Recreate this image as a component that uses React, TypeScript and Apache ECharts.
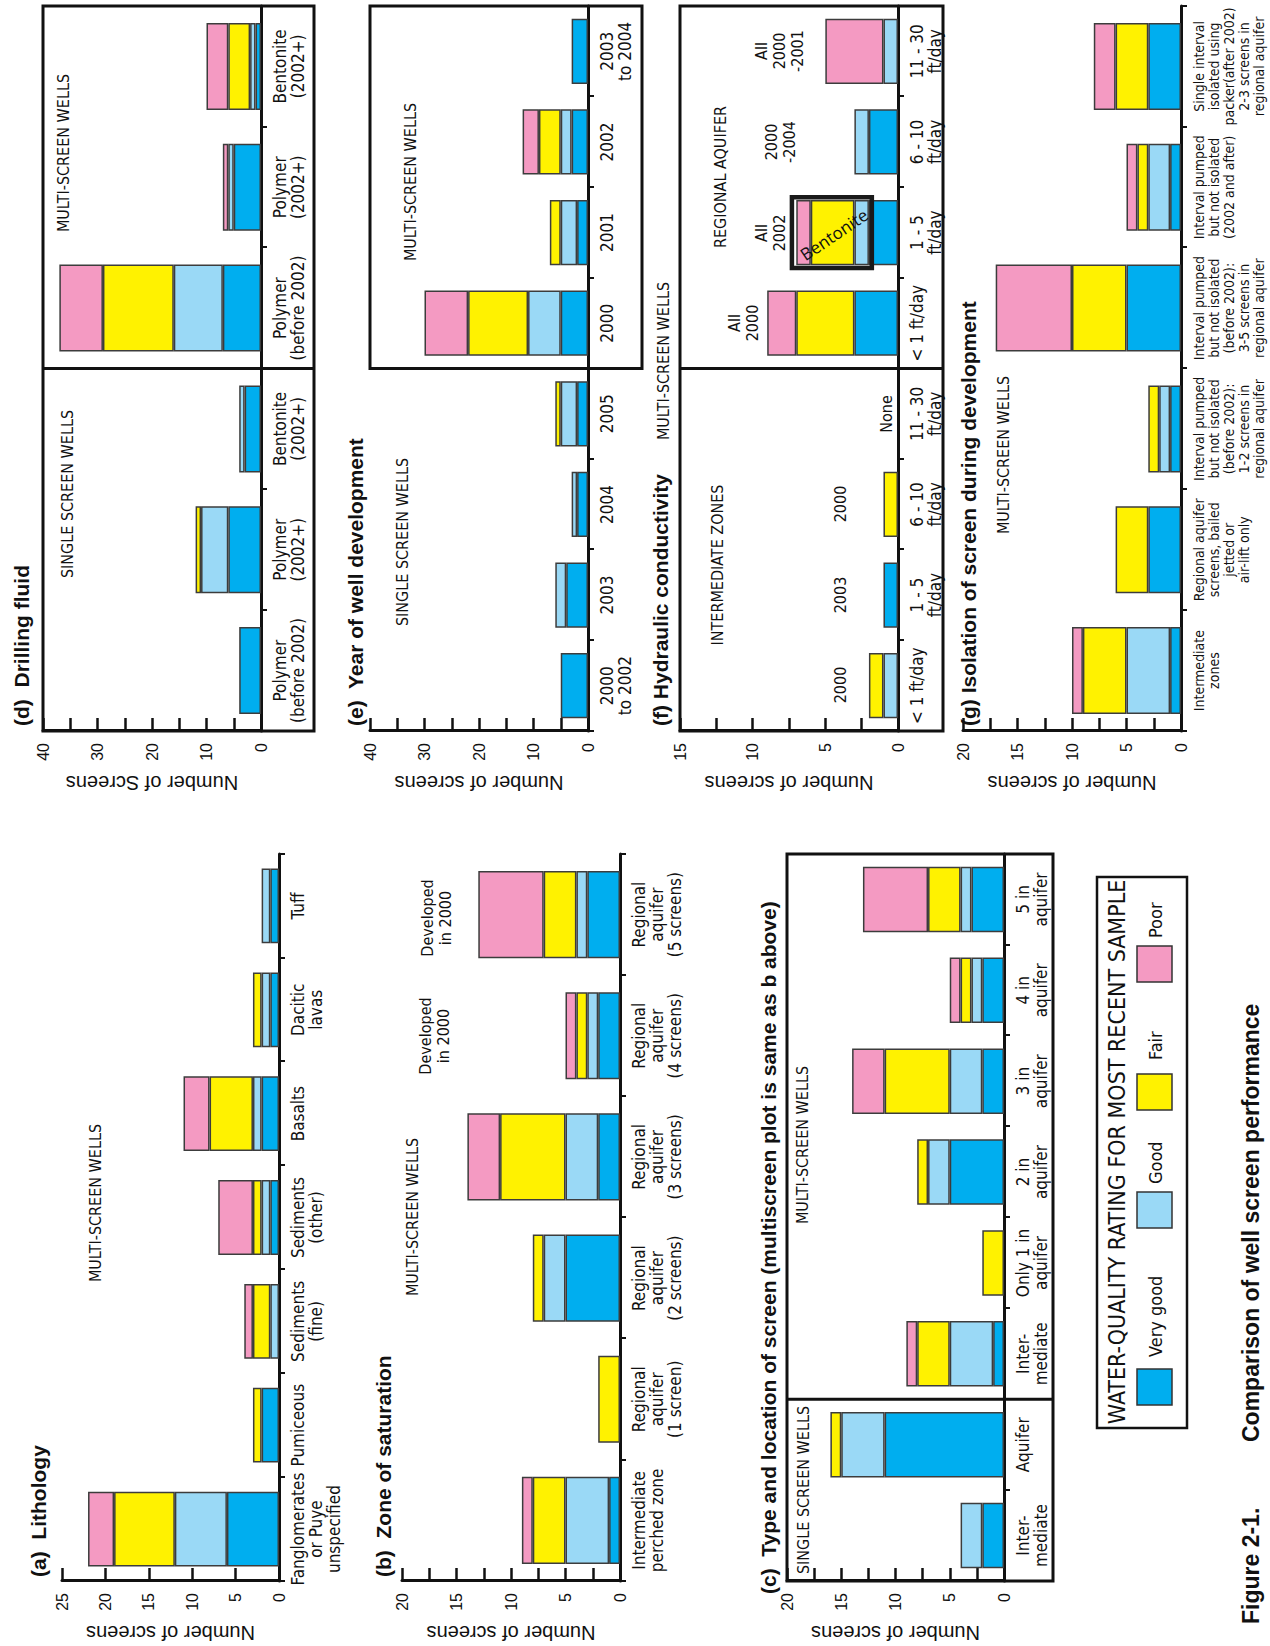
import React, { useEffect, useRef } from 'react';
import * as echarts from 'echarts';

// ---------- data ----------
const RATINGS = ['Very good', 'Good', 'Fair', 'Poor'];
const RATING_COLORS = ['#00AEEF', '#9AD9F6', '#FFF200', '#F49AC2'];

// (a) Lithology
const lithologyCategories = ['Fanglomerates\nor Puye\nunspecified', 'Pumiceous', 'Sediments\n(fine)', 'Sediments\n(other)', 'Basalts', 'Dacitic\nlavas', 'Tuff'];
const lithologyVeryGood = [6, 2, 0, 1, 2, 1, 1];
const lithologyGood = [6, 0, 1, 1, 1, 1, 1];
const lithologyFair = [7, 1, 2, 1, 5, 1, 0];
const lithologyPoor = [3, 0, 1, 4, 3, 0, 0];

// (b) Zone of saturation
const saturationCategories = ['Intermediate\nperched zone', 'Regional\naquifer\n(1 screen)', 'Regional\naquifer\n(2 screens)', 'Regional\naquifer\n(3 screens)', 'Regional\naquifer\n(4 screens)', 'Regional\naquifer\n(5 screens)'];
const saturationVeryGood = [1, 0, 5, 2, 2, 3];
const saturationGood = [4, 0, 2, 3, 1, 1];
const saturationFair = [3, 2, 1, 6, 1, 3];
const saturationPoor = [1, 0, 0, 3, 1, 6];

// (c) Type and location of screen
const locationCategories = ['Inter-\nmediate', 'Aquifer', 'Inter-\nmediate', 'Only 1 in\naquifer', '2 in\naquifer', '3 in\naquifer', '4 in\naquifer', '5 in\naquifer'];
const locationVeryGood = [2, 11, 1, 0, 5, 2, 2, 3];
const locationGood = [2, 4, 4, 0, 2, 3, 1, 1];
const locationFair = [0, 1, 3, 2, 1, 6, 1, 3];
const locationPoor = [0, 0, 1, 0, 0, 3, 1, 6];

// (d) Drilling fluid
const fluidCategories = ['Polymer\n(before 2002)', 'Polymer\n(2002+)', 'Bentonite\n(2002+)', 'Polymer\n(before 2002)', 'Polymer\n(2002+)', 'Bentonite\n(2002+)'];
const fluidVeryGood = [4, 6, 3, 7, 5, 1];
const fluidGood = [0, 5, 1, 9, 1, 1];
const fluidFair = [0, 1, 0, 13, 0, 4];
const fluidPoor = [0, 0, 0, 8, 1, 4];

// (e) Year of well development
const yearCategories = ['2000\nto 2002', '2003', '2004', '2005', '2000', '2001', '2002', '2003\nto 2004'];
const yearVeryGood = [5, 4, 2, 2, 5, 2, 3, 3];
const yearGood = [0, 2, 1, 3, 6, 3, 2, 0];
const yearFair = [0, 0, 0, 1, 11, 2, 4, 0];
const yearPoor = [0, 0, 0, 0, 8, 0, 3, 0];

// (f) Hydraulic conductivity
const conductivityCategories = ['< 1 ft/day', '1 - 5\nft/day', '6 - 10\nft/day', '11 - 30\nft/day', '< 1 ft/day', '1 - 5\nft/day', '6 - 10\nft/day', '11 - 30\nft/day'];
const conductivityVeryGood = [0, 1, 0, 0, 3, 2, 2, 0];
const conductivityGood = [1, 0, 0, 0, 0, 1, 1, 1];
const conductivityFair = [1, 0, 1, 0, 4, 3, 0, 0];
const conductivityPoor = [0, 0, 0, 0, 2, 1, 0, 4];

// (g) Isolation of screen during development
const isolationCategories = [
  'Intermediate\nzones',
  'Regional aquifer\nscreens, bailed\njetted or\nair-lift only',
  'Interval pumped\nbut not isolated\n(before 2002):\n1-2 screens in\nregional aquifer',
  'Interval pumped\nbut not isolated\n(before 2002):\n3-5 screens in\nregional aquifer',
  'Interval pumped\nbut not isolated\n(2002 and after)',
  'Single interval\nisolated using\npacker(after 2002)\n2-3 screens in\nregional aquifer',
];
const isolationVeryGood = [1, 3, 1, 5, 1, 3];
const isolationGood = [4, 0, 1, 0, 2, 0];
const isolationFair = [4, 3, 1, 5, 1, 3];
const isolationPoor = [1, 0, 0, 7, 1, 2];

// ---------- layout (landscape page, later rotated) ----------
const PAGE_W = 1646;
const PAGE_H = 1270;
const NARROW = "'Liberation Sans Narrow', 'Arial Narrow', 'DejaVu Sans Condensed', 'Liberation Sans', sans-serif";
const SANS = "'Liberation Sans', Arial, sans-serif";
const INK = '#111';

const LX = 65, LW = 727;
const RX = 915, RW = 725;

const panels = [
  { cats: lithologyCategories, values: [lithologyVeryGood, lithologyGood, lithologyFair, lithologyPoor], left: LX, width: LW, top: 62, height: 217, max: 25, interval: 5, labelStep: 5, axisName: 'Number of screens', catFont: 17, catLine: 18 },
  { cats: saturationCategories, values: [saturationVeryGood, saturationGood, saturationFair, saturationPoor], left: LX, width: LW, top: 402, height: 218, max: 20, interval: 2.5, labelStep: 5, axisName: 'Number of screens', catFont: 17, catLine: 18 },
  { cats: locationCategories, values: [locationVeryGood, locationGood, locationFair, locationPoor], left: LX, width: LW, top: 787, height: 217, max: 20, interval: 2.5, labelStep: 5, axisName: 'Number of screens', catFont: 17, catLine: 18 },
  { cats: fluidCategories, values: [fluidVeryGood, fluidGood, fluidFair, fluidPoor], left: RX, width: RW, top: 43, height: 218, max: 40, interval: 5, labelStep: 10, axisName: 'Number of Screens', catFont: 17, catLine: 18 },
  { cats: yearCategories, values: [yearVeryGood, yearGood, yearFair, yearPoor], left: RX, width: RW, top: 370, height: 218, max: 40, interval: 5, labelStep: 10, axisName: 'Number of screens', catFont: 17, catLine: 18 },
  { cats: conductivityCategories, values: [conductivityVeryGood, conductivityGood, conductivityFair, conductivityPoor], left: RX, width: RW, top: 680, height: 218, max: 15, interval: 2.5, labelStep: 5, axisName: 'Number of screens', catFont: 17, catLine: 18 },
  { cats: isolationCategories, values: [isolationVeryGood, isolationGood, isolationFair, isolationPoor], left: RX, width: RW, top: 963, height: 218, max: 20, interval: 2.5, labelStep: 5, axisName: 'Number of screens', catFont: 14, catLine: 15 },
];

const titles = [
  { text: '(a)  Lithology', x: 69, y: 38 },
  { text: '(b)  Zone of saturation', x: 69, y: 383 },
  { text: '(c)  Type and location of screen (multiscreen plot is same as b above)', x: 52, y: 768 },
  { text: '(d)  Drilling fluid', x: 920, y: 21 },
  { text: '(e)  Year of well development', x: 920, y: 355 },
  { text: '(f) Hydraulic conductivity', x: 920, y: 660 },
  { text: '(g) Isolation of screen during development', x: 920, y: 968 },
];

const notes = [
  { text: 'MULTI-SCREEN WELLS', x: 443, y: 95 },
  { text: 'MULTI-SCREEN WELLS', x: 429, y: 412 },
  { text: 'Developed\nin 2000', x: 610, y: 434 },
  { text: 'Developed\nin 2000', x: 728, y: 436 },
  { text: 'SINGLE SCREEN WELLS', x: 156, y: 803 },
  { text: 'MULTI-SCREEN WELLS', x: 501, y: 802 },
  { text: 'SINGLE SCREEN WELLS', x: 1152, y: 67 },
  { text: 'MULTI-SCREEN WELLS', x: 1493, y: 63 },
  { text: 'SINGLE SCREEN WELLS', x: 1104, y: 402 },
  { text: 'MULTI-SCREEN WELLS', x: 1464, y: 410 },
  { text: 'MULTI-SCREEN WELLS', x: 1285, y: 663 },
  { text: 'INTERMEDIATE ZONES', x: 1081, y: 717 },
  { text: 'REGIONAL AQUIFER', x: 1469, y: 720 },
  { text: '2000', x: 961, y: 840 },
  { text: '2003', x: 1051, y: 840 },
  { text: '2000', x: 1142, y: 840 },
  { text: 'None', x: 1232, y: 886 },
  { text: 'All\n2000', x: 1323, y: 743 },
  { text: 'All\n2002', x: 1413, y: 770 },
  { text: '2000\n-2004', x: 1504, y: 780 },
  { text: 'All\n2000\n-2001', x: 1595, y: 779 },
  { text: 'MULTI-SCREEN WELLS', x: 1191, y: 1003 },
];

const legendTitle = 'WATER-QUALITY RATING FOR MOST RECENT SAMPLE';
const legendSwatchX = [241, 418, 536, 664];
const legendLabelX = [289, 462, 586, 708];
const captionNumber = 'Figure 2-1.';
const captionText = 'Comparison of well screen performance';

function textEl(text: string, x: number, y: number, font: string, align = 'center', lineHeight?: number, extra: any = {}) {
  return {
    type: 'text', x, y, z: 100, silent: true, ...extra,
    style: { text, font, fill: INK, textAlign: align, align, textVerticalAlign: 'middle', verticalAlign: 'middle', lineHeight },
  };
}

function rectEl(x: number, y: number, w: number, h: number, lw = 3, fill = 'none') {
  return { type: 'rect', z: 90, silent: true, shape: { x, y, width: w, height: h }, style: { fill, stroke: INK, lineWidth: lw } };
}

function lineEl(x1: number, y1: number, x2: number, y2: number, lw = 3) {
  return { type: 'line', z: 90, silent: true, shape: { x1, y1, x2, y2 }, style: { stroke: INK, lineWidth: lw } };
}

function buildGraphics(extra: any[]) {
  const g: any[] = [];
  titles.forEach((t) => g.push(textEl(t.text, t.x, t.y, `bold 21px ${SANS}`, 'left')));
  notes.forEach((n) => g.push(textEl(n.text, n.x, n.y, `16px ${NARROW}`, 'center', 18)));
  // boxes (c)
  const pc = panels[2];
  g.push(rectEl(pc.left, pc.top, pc.width, 1053 - pc.top));
  g.push(lineEl(pc.left + (pc.width * 2) / 8, pc.top, pc.left + (pc.width * 2) / 8, 1053));
  // boxes (d)
  const pd = panels[3];
  g.push(rectEl(pd.left, pd.top, pd.width, 314 - pd.top));
  g.push(lineEl(pd.left + pd.width / 2, pd.top, pd.left + pd.width / 2, 314));
  // box (e) multi only
  const pe = panels[4];
  g.push(rectEl(pe.left + pe.width / 2, pe.top, pe.width / 2, 642 - pe.top));
  // boxes (f)
  const pf = panels[5];
  g.push(rectEl(pf.left, pf.top, pf.width, 943 - pf.top));
  g.push(lineEl(pf.left + pf.width / 2, pf.top, pf.left + pf.width / 2, 943));
  // legend
  g.push(rectEl(218, 1097, 551, 90, 2.5));
  g.push(textEl(legendTitle, 494, 1117, `23px ${NARROW}`, 'center'));
  RATINGS.forEach((r, i) => {
    g.push({ type: 'rect', z: 95, silent: true, shape: { x: legendSwatchX[i], y: 1137, width: 36, height: 35 }, style: { fill: RATING_COLORS[i], stroke: '#333', lineWidth: 1.5 } });
    g.push(textEl(r, legendLabelX[i], 1155, `18px ${NARROW}`, 'left'));
  });
  // caption
  g.push(textEl(captionNumber, 22, 1251, `bold 23px ${SANS}`, 'left'));
  g.push(textEl(captionText, 204, 1251, `bold 23px ${SANS}`, 'left'));
  return g.concat(extra);
}

function buildOption(extraGraphics: any[]) {
  const grid = panels.map((p) => ({ left: p.left, top: p.top, width: p.width, height: p.height, containLabel: false, outerBoundsMode: 'none' }));
  const xAxis = panels.map((p, i) => ({
    type: 'category', gridIndex: i, data: p.cats,
    axisLine: { show: true, lineStyle: { color: INK, width: 3 } },
    axisTick: { show: true, length: 6, lineStyle: { color: INK, width: 2 } },
    axisLabel: { interval: 0, margin: 10, color: INK, fontFamily: NARROW, fontSize: p.catFont, lineHeight: p.catLine },
    splitLine: { show: false },
  }));
  const yAxis = panels.map((p, i) => ({
    type: 'value', gridIndex: i, min: 0, max: p.max, interval: p.interval,
    axisLine: { show: true, lineStyle: { color: INK, width: 3 } },
    axisTick: { show: true, inside: true, length: 13, lineStyle: { color: INK, width: 2.5 } },
    axisLabel: { margin: 12, color: INK, fontFamily: SANS, fontSize: 16, formatter: (v: number) => (Math.abs(v % p.labelStep) < 1e-9 ? String(v) : '') },
    splitLine: { show: false },
    name: p.axisName, nameLocation: 'middle', nameGap: 42, nameRotate: 90,
    nameTextStyle: { fontFamily: SANS, fontSize: 20, color: INK },
  }));
  const series: any[] = [];
  panels.forEach((p, i) => {
    p.values.forEach((vals, r) => {
      series.push({
        type: 'bar', name: RATINGS[r], xAxisIndex: i, yAxisIndex: i, stack: 'panel' + i,
        barCategoryGap: '28%', silent: true,
        data: vals.map((v) => (v === 0 ? '-' : v)),
        itemStyle: { color: RATING_COLORS[r], borderColor: '#3c3c3c', borderWidth: 1.5 },
      });
    });
  });
  return {
    animation: false,
    backgroundColor: '#ffffff',
    grid, xAxis, yAxis, series,
    graphic: { elements: buildGraphics(extraGraphics) },
  };
}

export default function App() {
  const ref = useRef<HTMLDivElement>(null);
  useEffect(() => {
    if (!ref.current) return;
    const chart = echarts.init(ref.current, null, { renderer: 'svg', width: PAGE_W, height: PAGE_H });
    chart.setOption(buildOption([]) as any);
    // bentonite annotation box around the non-"very good" part of the multi-screen 1-5 ft/day bar
    const top = chart.convertToPixel({ gridIndex: 5 } as any, [5, 7.3]) as number[];
    const bottom = chart.convertToPixel({ gridIndex: 5 } as any, [5, 1.8]) as number[];
    const halfW = ((RW / 8) * 0.78) / 2;
    const extra = [
      { type: 'rect', z: 96, silent: true, shape: { x: top[0] - halfW, y: top[1], width: halfW * 2, height: bottom[1] - top[1] }, style: { fill: 'none', stroke: '#1a1a1a', lineWidth: 4.5 } },
      textEl('Bentonite', top[0] - 2, (top[1] + bottom[1]) / 2 + 2, `17px 'Open Sans', 'Noto Sans', sans-serif`, 'center', undefined, { rotation: (-56 * Math.PI) / 180 }),
    ];
    chart.setOption(buildOption(extra) as any, true);
    return () => chart.dispose();
  }, []);
  return (
    <div style={{ position: 'absolute', left: 0, top: 0, width: PAGE_H, height: PAGE_W, overflow: 'hidden', background: '#fff' }}>
      <div
        ref={ref}
        style={{ position: 'absolute', left: 0, top: 0, width: PAGE_W, height: PAGE_H, transformOrigin: '0 0', transform: `translate(0px, ${PAGE_W}px) rotate(-90deg)` }}
      />
    </div>
  );
}
